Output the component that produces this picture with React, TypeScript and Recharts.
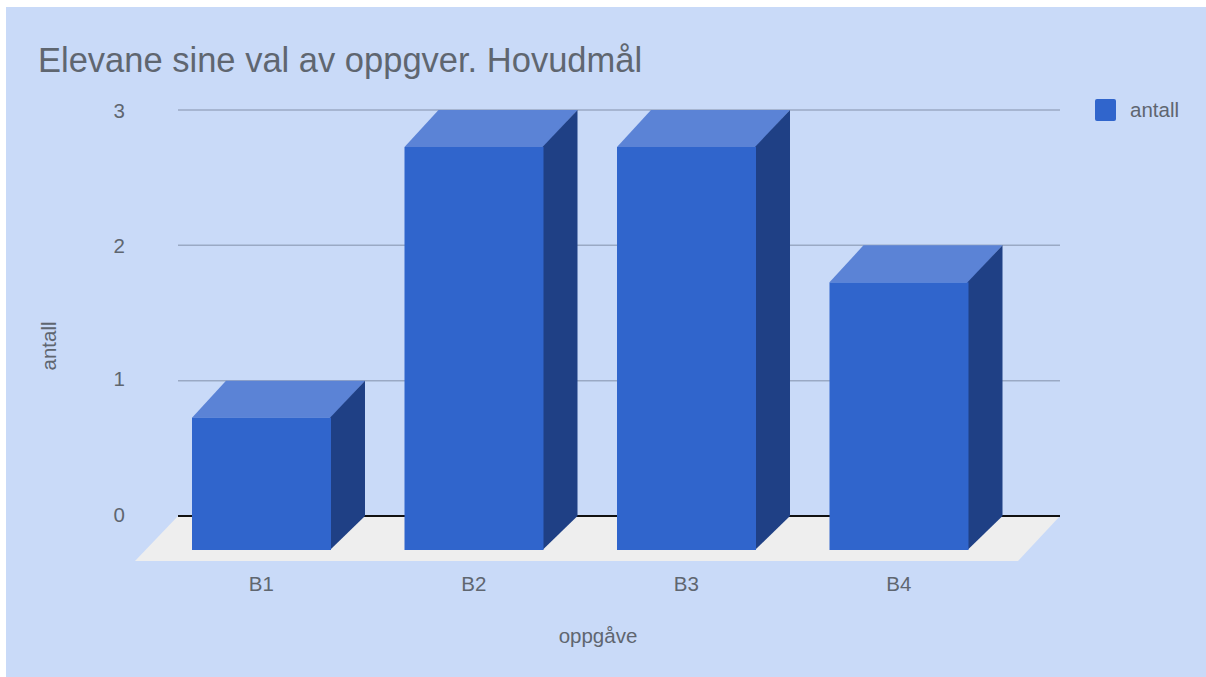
import { BarChart, Bar, XAxis, YAxis, CartesianGrid, Legend, usePlotArea } from "recharts";

const categories = ["B1", "B2", "B3", "B4"];
const antall = [1, 3, 3, 2];
const yTicks = [0, 1, 2, 3];

const data = categories.map((name, i) => ({ name, antall: antall[i] }));

const FRONT = "#3065cc";
const TOP = "#5b83d6";
const SIDE = "#1f4085";
const TEXT = "#5f6670";
const FONT = "'Liberation Sans', Arial, sans-serif";
const DX = 34; // depth of the fake 3d

function Box3D(props: any) {
  const { x, y, width: w, height: h } = props;
  const left = x - DX;
  const right = x + w - DX;
  const top = y + 37;
  const bottom = y + h + 34;
  return (
    <g>
      <polygon points={`${left},${top} ${right},${top} ${x + w},${y} ${x},${y}`} fill={TOP} />
      <polygon
        points={`${right - 1},${top} ${x + w},${y} ${x + w},${y + h} ${right - 1},${bottom}`}
        fill={SIDE}
      />
      <rect x={left} y={top} width={w} height={bottom - top} fill={FRONT} />
    </g>
  );
}

// floor plus the black zero line, has to sit behind the bars
function Floor() {
  const plot = usePlotArea();
  if (!plot) return null;
  const back = plot.y + plot.height;
  const l = plot.x;
  const r = plot.x + plot.width;
  return (
    <g>
      <polygon points={`${l},${back} ${r},${back} ${r - 42},${back + 45} ${l - 43},${back + 45}`} fill="#eeeeee" />
      <line x1={l} x2={r} y1={back} y2={back} stroke="#111111" strokeWidth={2} />
    </g>
  );
}

function XTick(props: any) {
  const { x, payload } = props;
  return (
    <text x={x - DX} y={576} textAnchor="middle" dominantBaseline="central" fontSize={20.5} fontFamily={FONT} fill={TEXT}>
      {payload.value}
    </text>
  );
}

function YTick(props: any) {
  const { x, y, payload } = props;
  return (
    <text x={x} y={payload.value < 2 ? y - 2 : y} textAnchor="end" dominantBaseline="central" fontSize={20.5} fontFamily={FONT} fill={TEXT}>
      {payload.value}
    </text>
  );
}

function LegendBox() {
  return (
    <div style={{ display: "flex", alignItems: "center", fontFamily: FONT, fontSize: 20.5, lineHeight: "22px", color: TEXT }}>
      <span style={{ width: 21, height: 22, background: FRONT, borderRadius: 2, marginRight: 14 }} />
      <span>antall</span>
    </div>
  );
}

export default function App() {
  return (
    <div style={{ position: "absolute", left: 6, top: 7, width: 1200, height: 670, background: "#c9daf8" }}>
      <BarChart
        width={1200}
        height={670}
        data={data}
        barSize={139}
        margin={{ top: 103, right: 146, bottom: 109, left: 0 }}
      >
        <CartesianGrid horizontal vertical={false} stroke="#9aa9c4" strokeWidth={1.5} />
        <Floor />
        <XAxis
          dataKey="name"
          axisLine={false}
          tickLine={false}
          padding={{ left: 11, right: 21 }}
          tick={<XTick />}
        />
        <YAxis
          width={172}
          domain={[0, 3]}
          ticks={yTicks}
          axisLine={false}
          tickLine={false}
          tickMargin={47}
          tick={<YTick />}
        />
        <Legend
          content={<LegendBox />}
          wrapperStyle={{ position: "absolute", left: 1089, top: 92, width: "auto" }}
        />
        <Bar dataKey="antall" shape={<Box3D />} isAnimationActive={false} />
        <text x={32} y={53} dominantBaseline="central" fontSize={34.5} fontFamily={FONT} fill={TEXT}>
          Elevane sine val av oppgver. Hovudmål
        </text>
        <text x={592} y={628} textAnchor="middle" dominantBaseline="central" fontSize={20.5} fontFamily={FONT} fill={TEXT}>
          oppgåve
        </text>
        <text
          x={42}
          y={339}
          textAnchor="middle"
          dominantBaseline="central"
          fontSize={20.5}
          fontFamily={FONT}
          fill={TEXT}
          transform="rotate(-90 42 339)"
        >
          antall
        </text>
      </BarChart>
    </div>
  );
}
